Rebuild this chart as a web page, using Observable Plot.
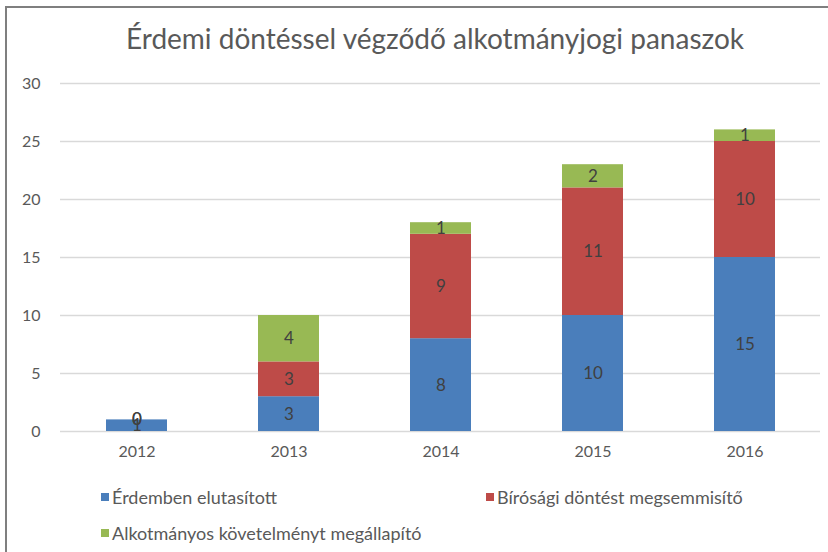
<!DOCTYPE html>
<html>
<head>
<meta charset="utf-8">
<script src="https://cdn.jsdelivr.net/npm/d3@7"></script>
<script src="https://cdn.jsdelivr.net/npm/@observablehq/plot@0.6"></script>
<style>
  body { margin: 0; background: #fff; width: 828px; height: 552px; overflow: hidden; position: relative; font-family: Lato, "Open Sans", sans-serif; }
  #frame { position: absolute; left: 5px; top: 6px; width: 840px; height: 560px; border-left: 2px solid #7f7f7f; border-top: 2px solid #7f7f7f; }
  #title { position: absolute; left: 0; width: 870px; top: 21px; text-align: center; font-size: 28px; color: #595959; }
  #chart { position: absolute; left: 0; top: 60px; }
  .leg { position: absolute; font-size: 18px; color: #595959; display: flex; align-items: center; }
  .leg span.sw { display: inline-block; width: 8px; height: 8px; margin-right: 3px; }
</style>
</head>
<body>
<div id="frame"></div>
<div id="title">Érdemi döntéssel végződő alkotmányjogi panaszok</div>
<div id="chart"></div>
<div id="legend"></div>
<script>
const years = ["2012", "2013", "2014", "2015", "2016"];
const seriesNames = ["Érdemben elutasított", "Bírósági döntést megsemmisítő", "Alkotmányos követelményt megállapító"];
const seriesColors = ["#4a7ebb", "#be4b48", "#98b954"];
const elutasitott = [1, 3, 8, 10, 15];
const megsemmisito = [0, 3, 9, 11, 10];
const kovetelmeny = [0, 4, 1, 2, 1];
const yTicks = [0, 5, 10, 15, 20, 25, 30];

const seriesValues = [elutasitott, megsemmisito, kovetelmeny];
const data = [];
seriesNames.forEach((s, i) => years.forEach((yr, j) => data.push({year: yr, series: s, value: seriesValues[i][j]})));

const stackOpts = {x: "year", y: "value", z: "series", order: seriesNames};

const plot = Plot.plot({
  width: 828,
  height: 410,
  marginLeft: 60,
  marginRight: 8,
  marginTop: 23,
  marginBottom: 39,
  style: {fontFamily: "Lato, 'Open Sans', sans-serif", fontSize: "16px", color: "#595959", background: "transparent"},
  x: {domain: years, paddingInner: 0.6, paddingOuter: 0.3, label: null},
  y: {domain: [0, 30], label: null},
  color: {domain: seriesNames, range: seriesColors},
  marks: [
    Plot.ruleY(yTicks, {stroke: "#d9d9d9", strokeWidth: 1.3}),
    Plot.barY(data, Plot.stackY({...stackOpts, fill: "series"})),
    Plot.text(data, Plot.stackY({...stackOpts, text: d => String(d.value), fill: "#404040", fontSize: 17})),
    Plot.axisX({tickSize: 0, tickPadding: 14, fontSize: 16}),
    Plot.axisY({ticks: yTicks, tickSize: 0, tickPadding: 20, fontSize: 16})
  ]
});
document.getElementById("chart").appendChild(plot);

const legendPos = [[101, 486], [486, 486], [101, 522]];
const legend = document.getElementById("legend");
seriesNames.forEach((s, i) => {
  const d = document.createElement("div");
  d.className = "leg";
  d.style.left = legendPos[i][0] + "px";
  d.style.top = legendPos[i][1] + "px";
  const sw = document.createElement("span");
  sw.className = "sw";
  sw.style.background = seriesColors[i];
  d.appendChild(sw);
  d.appendChild(document.createTextNode(s));
  legend.appendChild(d);
});
</script>
</body>
</html>
